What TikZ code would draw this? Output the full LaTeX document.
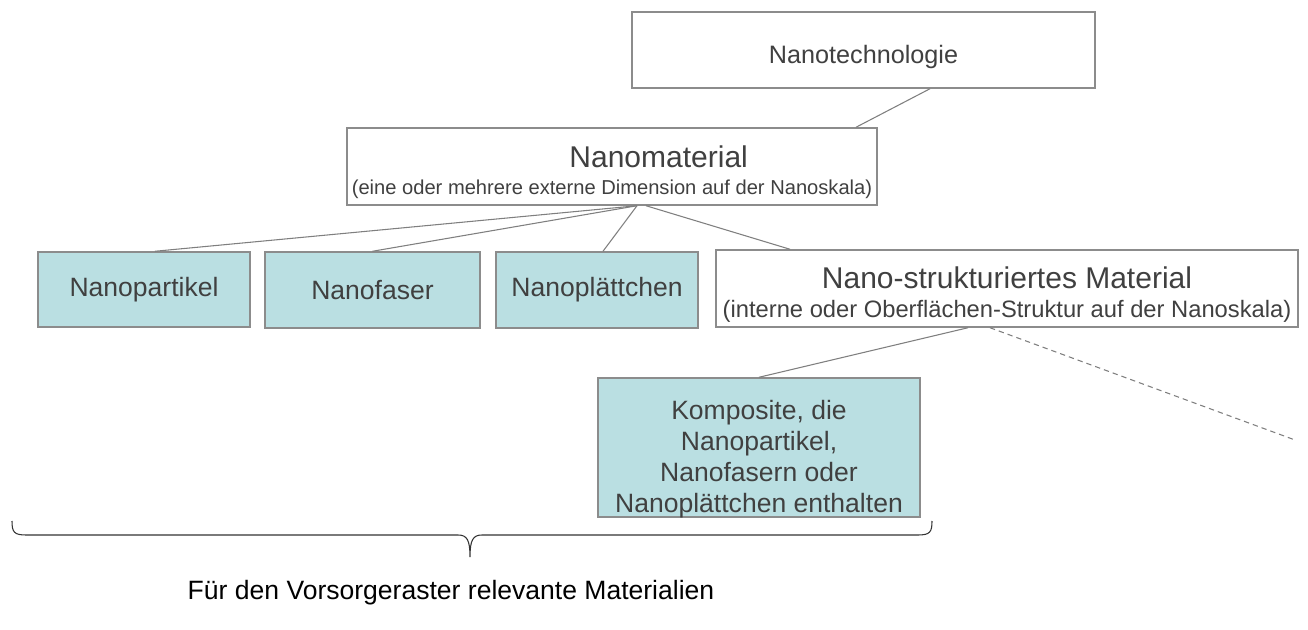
\documentclass[tikz,border=0pt]{standalone}
\usepackage{fontspec}
\setmainfont{Liberation Sans}
\usetikzlibrary{calc}
\definecolor{boxline}{HTML}{8C8C8C}
\definecolor{linkgray}{HTML}{7F7F7F}
\definecolor{tealfill}{HTML}{BADFE2}
\definecolor{textgray}{HTML}{404040}
\newcommand\titlefont{\fontsize{22.5}{23}\selectfont}
\newcommand\matsubfont{\fontsize{15.1}{20}\selectfont}
\newcommand\structsubfont{\fontsize{17.8}{21.5}\selectfont}
\newcommand\bodyfont{\fontsize{19.9}{23.2}\selectfont}
\tikzset{
  box/.style={draw=boxline, line width=1.1pt, fill=white, text=textgray, inner sep=0pt, align=center},
  tealbox/.style={box, fill=tealfill},
  link/.style={draw=linkgray, line width=0.8pt}
}
\begin{document}
\begin{tikzpicture}[x=0.75pt,y=-0.75pt]
\useasboundingbox (0,0) rectangle (1308,630);
\node[box, minimum width={463*0.75pt}, minimum height={76*0.75pt}, font=\fontsize{18.9}{22}\selectfont,
  text height=23pt, text depth=2pt] (tech) at (863.5,50) {Nanotechnologie};
\node[box, minimum width={530*0.75pt}, minimum height={77*0.75pt}, font=\matsubfont] (mat) at (612,166.5)
  {\hspace*{70pt}\rule{0pt}{25pt}{\titlefont Nanomaterial}\\(eine oder mehrere externe Dimension auf der Nanoskala)};
\node[tealbox, minimum width={212*0.75pt}, minimum height={75*0.75pt}, font=\bodyfont] (part) at (144,289.5) {Nanopartikel};
\node[tealbox, minimum width={215*0.75pt}, minimum height={76*0.75pt}, font=\bodyfont] (faser) at (372.5,290) {Nanofaser};
\node[tealbox, minimum width={202*0.75pt}, minimum height={76*0.75pt}, font=\bodyfont] (plaett) at (597,290) {Nanoplättchen};
\node[box, minimum width={582*0.75pt}, minimum height={77*0.75pt}, font=\structsubfont] (struct) at (1007,288.5)
  {\rule{0pt}{25pt}{\titlefont Nano-strukturiertes Material}\\(interne oder Oberflächen-Struktur auf der Nanoskala)};
\node[tealbox, minimum width={322*0.75pt}, minimum height={139*0.75pt}, font=\bodyfont,
  text depth=2pt] (komp) at (759,447.5)
  {\rule{0pt}{30pt}Komposite, die\\Nanopartikel,\\Nanofasern oder\\Nanoplättchen enthalten};
\coordinate (rest) at (1295,440);

\draw[link] ($(tech.south)+(66.5,0)$) -- ($(mat.north)+(244,0)$);
\draw[link] ($(mat.south)+(25,0)$) -- ($(part.north)+(11,0)$);
\draw[link] ($(mat.south)+(25,0)$) -- (faser.north);
\draw[link] ($(mat.south)+(25,0)$) -- ($(plaett.north)+(6,0)$);
\draw[link] ($(mat.south)+(34,0)$) -- ($(struct.north)+(-217,0)$);
\draw[link] ($(struct.south)+(-39,0)$) -- (komp.north);
\draw[link, dash pattern=on 4pt off 3pt] ($(struct.south)+(-17,0)$) -- (rest);

\draw[line width=0.8pt, black!80] (12,521) .. controls (12,532) and (14,535) .. (26,535) -- (458,535)
  .. controls (467,535) and (470,540) .. (470,557) .. controls (470,540) and (473,535) .. (482,535)
  -- (918,535) .. controls (930,535) and (932,532) .. (932,521);
\node[font=\bodyfont] (label) at (451,593) {Für den Vorsorgeraster relevante Materialien};
\end{tikzpicture}
\end{document}
